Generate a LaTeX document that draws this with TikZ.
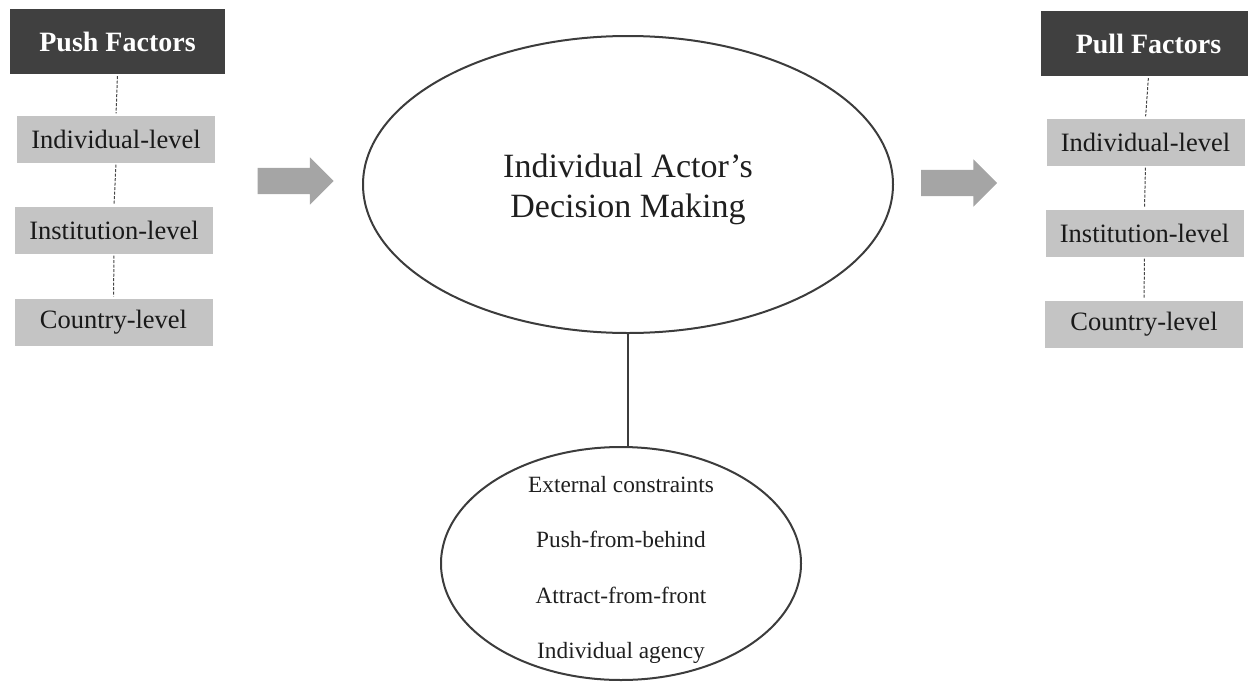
\documentclass[tikz,border=0pt]{standalone}
\usepackage{fontspec}
\setmainfont{Liberation Serif}
\usetikzlibrary{shapes.geometric, shapes.arrows, positioning}
\definecolor{headgray}{RGB}{64,64,64}
\definecolor{tiergray}{RGB}{196,196,196}
\definecolor{flowgray}{RGB}{165,165,165}
\definecolor{edgegray}{RGB}{60,60,60}
\definecolor{linkgray}{RGB}{70,70,70}

\begin{document}
\begin{tikzpicture}[x=1pt, y=1pt,
    factor/.style={fill=headgray, text=white, font=\fontsize{28}{33}\selectfont\bfseries,
      minimum width=215pt, minimum height=65pt, inner sep=0pt},
    tier/.style={fill=tiergray, text=black!90, font=\fontsize{26.5}{31}\selectfont,
      minimum width=198pt, minimum height=47pt, inner sep=0pt},
    link/.style={draw=linkgray, dash pattern=on 3pt off 1.5pt, line width=1pt,
      shorten >=2pt, shorten <=2pt},
    flow/.style={single arrow, fill=flowgray, draw=none, single arrow head extend=10.5pt,
      inner xsep=0pt, inner ysep=13pt, minimum height=76pt},
    bubble/.style={ellipse, draw=edgegray, line width=2pt, inner sep=0pt}]
    \useasboundingbox (0,0) rectangle (1248,-683);

    % Push side
    \node[factor] (push) at (117.5,-41.5) {Push Factors};
    \node[tier] (pushind) at (116,-139) {Individual-level};
    \node[tier] (pushinst) at (114,-230) {Institution-level};
    \node[tier] (pushctry) at (113.5,-322) {Country-level};

    \draw[link] (push.south) -- (pushind.north);
    \draw[link] (pushind.south) -- (pushinst.north);
    \draw[link] (pushinst.south) -- (pushctry.north);

    % Pull side
    \node[factor] (pull) at (1148.5,-43.5) {Pull Factors};
    \node[tier] (pullind) at (1145.5,-142) {Individual-level};
    \node[tier] (pullinst) at (1144.5,-233) {Institution-level};
    \node[tier] (pullctry) at (1144,-324.5) {Country-level};

    \draw[link] (pull.south) -- (pullind.north);
    \draw[link] (pullind.south) -- (pullinst.north);
    \draw[link] (pullinst.south) -- (pullctry.north);

    % Decision making
    \node[bubble, minimum width=530pt, minimum height=297pt] (actor) at (628,-184.5) {};
    \node[font=\fontsize{34}{40}\selectfont, text=black!88, align=center] (actortext)
      at (628,-189.4) {Individual Actor’s\\Decision Making};

    \node[bubble, minimum width=360pt, minimum height=233pt] (ctx) at (621,-563.5) {};
    \node[font=\fontsize{23.3}{55.3}\selectfont, text=black!88, align=center] (ctxtext)
      at (621,-569.8) {External constraints\\Push-from-behind\\Attract-from-front\\Individual agency};

    \draw[edgegray, line width=1.3pt] (actor.south) -- (actor.south |- ctx.north);

    % Arrows
    \node[flow] (toactor) at (289,-181) {};
    \node[flow] (topull) at (952.5,-183) {};
\end{tikzpicture}
\end{document}
